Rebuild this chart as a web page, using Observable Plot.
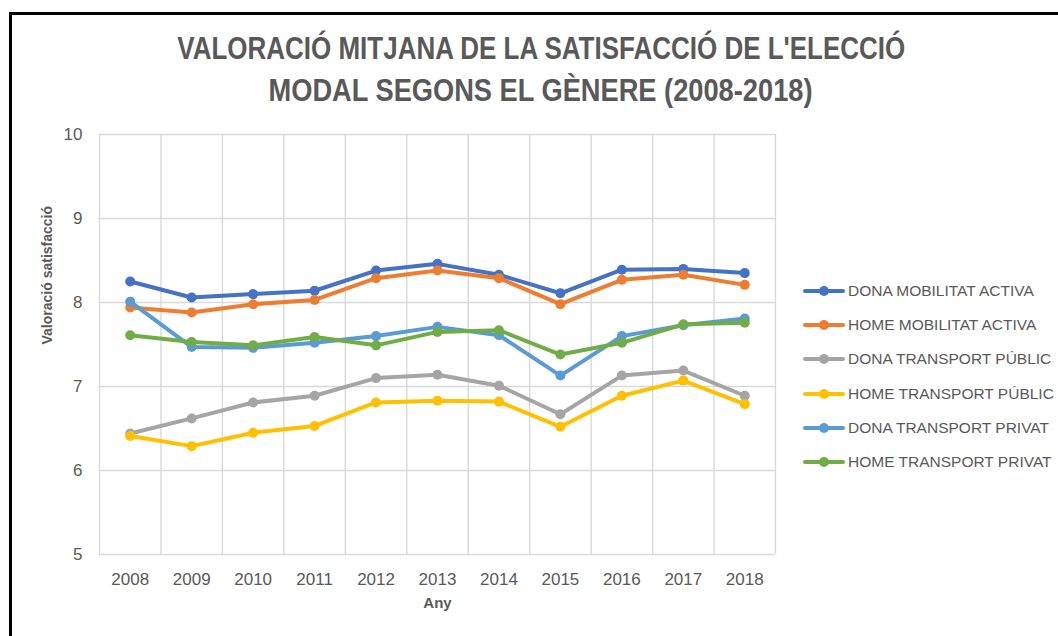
<!DOCTYPE html>
<html>
<head>
<meta charset="utf-8">
<script src="https://cdn.jsdelivr.net/npm/d3@7"></script>
<script src="https://cdn.jsdelivr.net/npm/@observablehq/plot@0.6"></script>
<style>
  html, body { margin: 0; padding: 0; background: #fff; }
  #chart { position: relative; width: 1058px; height: 636px; overflow: hidden; font-family: "Liberation Sans", Arial, sans-serif; }
  #frame { position: absolute; left: 9px; top: 12px; width: 1049px; height: 624px; box-sizing: border-box;
           border-left: 3px solid #000; border-top: 3px solid #000; pointer-events: none; }
  #title { position: absolute; left: 0; top: 27px; width: 1082px; text-align: center;
           font-family: "Liberation Sans", Arial, sans-serif; font-weight: bold;
           font-size: 32px; line-height: 42px; color: #595959; }
  #title .line { display: block; height: 42px; white-space: nowrap; }
  #title .line span { display: inline-block; transform-origin: 50% 50%; }
  #plot { position: absolute; left: 0; top: 120px; }
  #legend { position: absolute; left: 803px; top: 274px; }
  .item { display: flex; align-items: center; height: 34.2px; font-size: 15.5px; color: #595959; }
  .item svg { margin-right: 3px; }
</style>
</head>
<body>
<div id="chart">
  <div id="title">
    <div class="line"><span data-w="728">VALORACIÓ MITJANA DE LA SATISFACCIÓ DE L'ELECCIÓ</span></div>
    <div class="line"><span data-w="544">MODAL SEGONS EL GÈNERE (2008-2018)</span></div>
  </div>
  <div id="plot"></div>
  <div id="legend"></div>
  <div id="frame"></div>
</div>
<script>
// Survey years
const years = [2008, 2009, 2010, 2011, 2012, 2013, 2014, 2015, 2016, 2017, 2018];

// Mean satisfaction score (0-10) for each gender and transport mode
const donaMobilitatActiva  = [8.25, 8.06, 8.10, 8.14, 8.38, 8.46, 8.33, 8.11, 8.39, 8.40, 8.35];
const homeMobilitatActiva  = [7.94, 7.88, 7.98, 8.03, 8.29, 8.38, 8.29, 7.98, 8.27, 8.33, 8.21];
const donaTransportPublic  = [6.44, 6.62, 6.81, 6.89, 7.10, 7.14, 7.01, 6.67, 7.13, 7.19, 6.89];
const homeTransportPublic  = [6.41, 6.29, 6.45, 6.53, 6.81, 6.83, 6.82, 6.52, 6.89, 7.07, 6.79];
const donaTransportPrivat  = [8.01, 7.47, 7.46, 7.52, 7.60, 7.71, 7.61, 7.13, 7.60, 7.73, 7.81];
const homeTransportPrivat  = [7.61, 7.53, 7.49, 7.59, 7.49, 7.65, 7.67, 7.38, 7.52, 7.74, 7.76];

const seriesNames = [
  "DONA MOBILITAT ACTIVA",
  "HOME MOBILITAT ACTIVA",
  "DONA TRANSPORT PÚBLIC",
  "HOME TRANSPORT PÚBLIC",
  "DONA TRANSPORT PRIVAT",
  "HOME TRANSPORT PRIVAT"
];
const seriesValues = [
  donaMobilitatActiva, homeMobilitatActiva,
  donaTransportPublic, homeTransportPublic,
  donaTransportPrivat, homeTransportPrivat
];
const seriesColors = ["#4472C4", "#ED7D31", "#A5A5A5", "#FFC000", "#5B9BD5", "#70AD47"];

const yTicks = [5, 6, 7, 8, 9, 10];

// Condensed title: squeeze each line horizontally to its set width
document.querySelectorAll("#title .line span").forEach(s => {
  const w = s.getBoundingClientRect().width;
  s.style.transform = `scaleX(${(+s.dataset.w / w).toFixed(4)})`;
});

// Long-format table: one row per series and year
const rows = seriesNames.flatMap((name, s) =>
  years.map((year, i) => ({series: name, year, value: seriesValues[s][i]}))
);

// Category boundaries between consecutive years (vertical gridlines)
const boundaries = [...years.map(y => y - 0.5), years[years.length - 1] + 0.5];

// Each series drawn as line then markers, in order, so later series sit on top
const seriesMarks = seriesNames.flatMap(name => {
  const d = rows.filter(r => r.series === name);
  return [
    Plot.line(d, {x: "year", y: "value", stroke: "series", strokeWidth: 4, strokeLinejoin: "round", strokeLinecap: "round"}),
    Plot.dot(d, {x: "year", y: "value", fill: "series", r: 5})
  ];
});

const chart = Plot.plot({
  width: 1058,
  height: 516,
  marginTop: 14,
  marginBottom: 82,
  marginLeft: 99,
  marginRight: 283,
  style: {background: "transparent", fontFamily: "'Liberation Sans', Arial, sans-serif", overflow: "visible"},
  x: {
    type: "linear",
    domain: [boundaries[0], boundaries[boundaries.length - 1]],
    ticks: years,
    tickFormat: d => String(d),
    tickSize: 0,
    tickPadding: 18,
    label: null
  },
  y: {
    domain: [yTicks[0], yTicks[yTicks.length - 1]],
    ticks: yTicks,
    tickFormat: d => String(d),
    tickSize: 0,
    tickPadding: 17,
    label: null
  },
  color: {domain: seriesNames, range: seriesColors},
  marks: [
    Plot.ruleX(boundaries, {stroke: "#d9d9d9", strokeWidth: 1.4}),
    Plot.ruleY(yTicks, {stroke: "#d9d9d9", strokeWidth: 1.4}),
    ...seriesMarks,
    Plot.text(["Any"], {frameAnchor: "bottom", dy: 53, fontWeight: "bold", fontSize: 15, fill: "#595959"}),
    Plot.text(["Valoració satisfacció"], {frameAnchor: "left", dx: -52, rotate: -90, fontWeight: "bold", fontSize: 14, fill: "#595959"})
  ]
});

// Axis tick label styling
chart.querySelectorAll("g[aria-label^='x-axis'], g[aria-label^='y-axis']")
  .forEach(g => {
    g.setAttribute("font-size", "17");
    g.setAttribute("fill", "#595959");
    g.querySelectorAll("text").forEach(t => { t.setAttribute("fill", "#595959"); t.style.fontSize = "17px"; });
  });

document.getElementById("plot").appendChild(chart);

// Legend: line-with-marker swatch and series name
const legend = d3.select("#legend");
seriesNames.forEach((name, i) => {
  const item = legend.append("div").attr("class", "item");
  const sw = item.append("svg").attr("width", 42).attr("height", 12);
  sw.append("line").attr("x1", 2).attr("x2", 40).attr("y1", 6).attr("y2", 6)
    .attr("stroke", seriesColors[i]).attr("stroke-width", 4).attr("stroke-linecap", "round");
  sw.append("circle").attr("cx", 21).attr("cy", 6).attr("r", 5).attr("fill", seriesColors[i]);
  item.append("span").text(name);
});
</script>
</body>
</html>
